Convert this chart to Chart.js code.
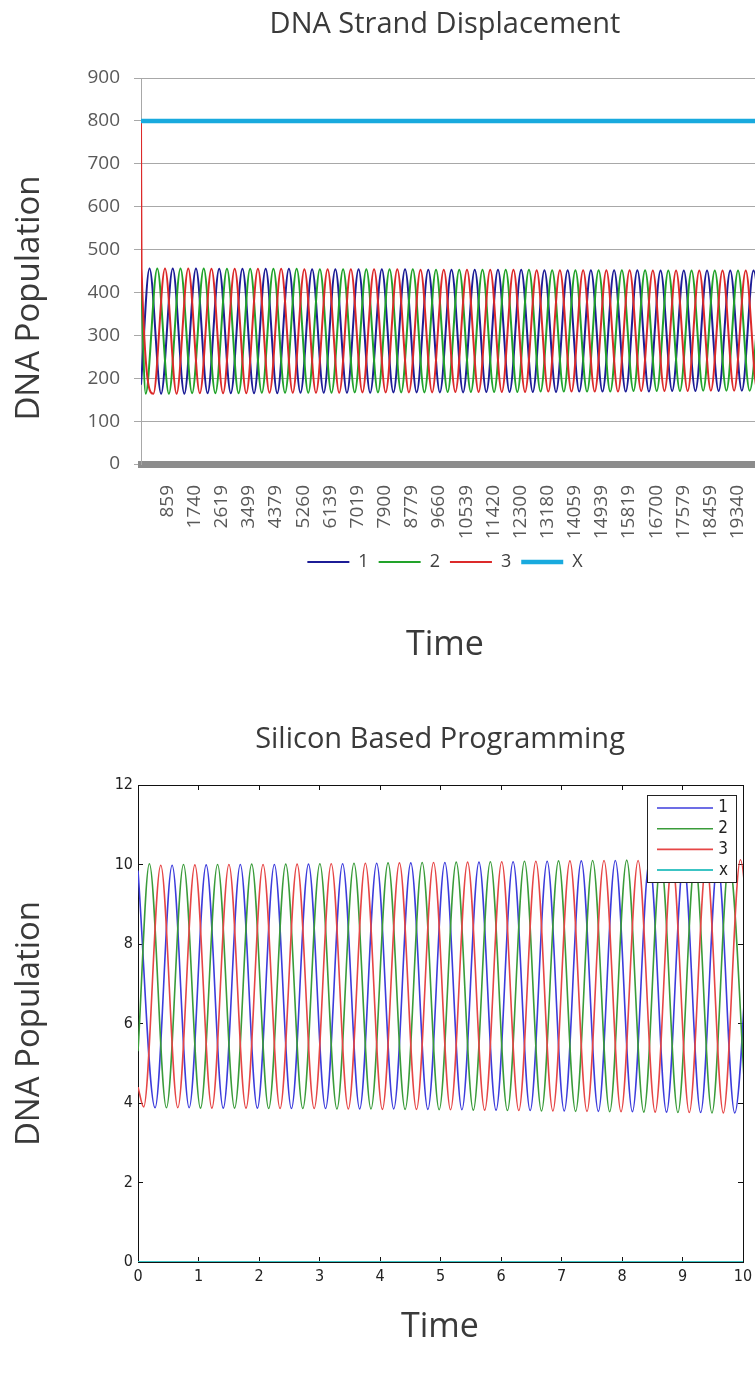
<!DOCTYPE html>
<html>
<head>
<meta charset="utf-8">
<script src="https://cdn.jsdelivr.net/npm/chart.js@4.4.1/dist/chart.umd.min.js"></script>
<style>
  html, body { margin: 0; padding: 0; background: #fff; overflow: hidden; }
  body { width: 755px; height: 1373px; position: relative; }
  #chartTop { position: absolute; left: 0; top: 0; }
  #chartBottom { position: absolute; left: 0; top: 690px; }
</style>
</head>
<body>
<canvas id="chartTop" width="890" height="690"></canvas>
<canvas id="chartBottom" width="880" height="683"></canvas>
<script>
const EXCEL_FONT = "'Open Sans', 'Noto Sans', sans-serif";
const MATLAB_FONT = "'Liberation Sans Narrow', 'DejaVu Sans Condensed', 'Liberation Sans', sans-serif";

// --- DNA strand displacement (top). Turning points.
const dsdTickLabels = [859, 1740, 2619, 3499, 4379, 5260, 6139, 7019, 7900, 8779, 9660,
  10539, 11420, 12300, 13180, 14059, 14939, 15819, 16700, 17579, 18459, 19340];

const dsdTime1 = [0, 276, 652, 1029, 1405, 1782, 2158, 2535, 2911, 3288, 3664, 4041, 4417, 4794,
  5170, 5547, 5923, 6300, 6676, 7053, 7429, 7806, 8182, 8559, 8935, 9312, 9688, 10065, 10441,
  10818, 11194, 11571, 11947, 12324, 12700, 13077, 13453, 13830, 14206, 14583, 14959, 15336,
  15712, 16089, 16465, 16842, 17218, 17595, 17971, 18348, 18724, 19101, 19477, 19854, 20230];
const dsdPop1 = [185, 456, 164, 456, 164, 456, 165, 455, 165, 455, 165, 455, 165, 455, 166, 454,
  166, 454, 166, 454, 166, 454, 167, 454, 167, 453, 167, 453, 167, 453, 168, 453, 168, 453, 168,
  452, 168, 452, 169, 452, 169, 452, 169, 452, 169, 451, 170, 451, 170, 451, 170, 451, 171, 451, 171];

const dsdTime2 = [0, 151, 527, 904, 1280, 1657, 2033, 2410, 2786, 3163, 3539, 3916, 4292, 4669,
  5045, 5422, 5798, 6175, 6551, 6928, 7304, 7681, 8057, 8434, 8810, 9187, 9563, 9940, 10316,
  10693, 11069, 11446, 11822, 12199, 12575, 12952, 13328, 13705, 14081, 14458, 14834, 15211,
  15587, 15964, 16340, 16717, 17093, 17470, 17846, 18223, 18599, 18976, 19352, 19729, 20105];
const dsdPop2 = [440, 164, 456, 164, 456, 165, 456, 165, 455, 165, 455, 166, 455, 166, 455, 166,
  454, 166, 454, 167, 454, 167, 454, 167, 454, 167, 453, 168, 453, 168, 453, 168, 453, 168, 453,
  169, 452, 169, 452, 169, 452, 169, 452, 170, 452, 170, 451, 170, 451, 171, 451, 171, 451, 171, 451];

const dsdTime3 = [0, 18, 401, 778, 1154, 1531, 1907, 2284, 2660, 3037, 3413, 3790, 4166, 4543,
  4919, 5296, 5672, 6049, 6425, 6802, 7178, 7555, 7931, 8308, 8684, 9061, 9437, 9814, 10190,
  10567, 10943, 11320, 11696, 12073, 12449, 12826, 13202, 13579, 13955, 14332, 14708, 15085,
  15461, 15838, 16214, 16591, 16967, 17344, 17720, 18097, 18473, 18850, 19226, 19603, 19979, 20356];
const dsdPop3 = [800, 456, 164, 456, 164, 456, 165, 455, 165, 455, 165, 455, 166, 455, 166, 454,
  166, 454, 166, 454, 167, 454, 167, 454, 167, 453, 167, 453, 168, 453, 168, 453, 168, 453, 168,
  452, 169, 452, 169, 452, 169, 452, 169, 452, 170, 451, 170, 451, 170, 451, 171, 451, 171, 451, 171, 451];

const dsdTimeX = [0, 20000];
const dsdPopX = [800, 800];

// --- Silicon based programming (bottom).
const sbpTime1 = [0, 0.282, 0.564, 0.846, 1.127, 1.409, 1.691, 1.973, 2.254, 2.536, 2.818, 3.100,
  3.382, 3.664, 3.945, 4.227, 4.509, 4.791, 5.072, 5.354, 5.636, 5.918, 6.200, 6.482, 6.763,
  7.045, 7.327, 7.609, 7.890, 8.172, 8.454, 8.736, 9.018, 9.300, 9.581, 9.863, 10.145];
const sbpPop1 = [9.85, 3.88, 9.98, 3.88, 9.99, 3.87, 10.0, 3.87, 10.0, 3.86, 10.01, 3.86, 10.02,
  3.85, 10.03, 3.85, 10.04, 3.84, 10.05, 3.83, 10.06, 3.82, 10.07, 3.81, 10.08, 3.8, 10.09, 3.79,
  10.1, 3.78, 10.1, 3.77, 10.09, 3.76, 10.08, 3.75, 10.07];

const sbpTime2 = [0, 0.188, 0.470, 0.752, 1.033, 1.315, 1.597, 1.879, 2.160, 2.442, 2.724, 3.006,
  3.288, 3.570, 3.851, 4.133, 4.415, 4.697, 4.978, 5.260, 5.542, 5.824, 6.106, 6.388, 6.669,
  6.951, 7.233, 7.515, 7.796, 8.078, 8.360, 8.642, 8.924, 9.206, 9.487, 9.769, 10.051];
const sbpPop2 = [5.3, 10.02, 3.88, 10.0, 3.87, 10.0, 3.87, 10.01, 3.86, 10.01, 3.86, 10.02, 3.85,
  10.03, 3.85, 10.04, 3.84, 10.05, 3.83, 10.06, 3.82, 10.07, 3.81, 10.08, 3.8, 10.09, 3.79, 10.1,
  3.78, 10.11, 3.77, 10.1, 3.76, 10.09, 3.75, 10.08, 3.75];

const sbpTime3 = [0, 0.094, 0.376, 0.658, 0.940, 1.221, 1.503, 1.785, 2.067, 2.348, 2.630, 2.912,
  3.194, 3.476, 3.758, 4.039, 4.321, 4.603, 4.885, 5.166, 5.448, 5.730, 6.012, 6.294, 6.576,
  6.857, 7.139, 7.421, 7.703, 7.984, 8.266, 8.548, 8.830, 9.112, 9.394, 9.675, 9.957, 10.239];
const sbpPop3 = [4.4, 3.9, 9.98, 3.88, 9.99, 3.87, 10.0, 3.87, 10.0, 3.86, 10.01, 3.86, 10.02,
  3.85, 10.03, 3.84, 10.04, 3.84, 10.05, 3.83, 10.06, 3.82, 10.07, 3.81, 10.08, 3.8, 10.09, 3.79,
  10.1, 3.78, 10.1, 3.77, 10.09, 3.76, 10.08, 3.75, 10.12, 3.76];

const sbpTimeX = [0, 10];
const sbpPopX = [0, 0];

function pairs(xs, ys) {
  return xs.map((x, i) => ({ x, y: ys[i] }));
}

function series(label, xs, ys, color, width, order) {
  return {
    label,
    data: pairs(xs, ys),
    borderColor: color,
    backgroundColor: color,
    borderWidth: width,
    pointRadius: 0,
    cubicInterpolationMode: "monotone",
    order, // later series drawn on top, like Excel/MATLAB
  };
}

// empty right-hand axis: keeps the plot off the right edge without shrinking title/legend boxes
function spacerAxis(width) {
  return {
    type: "linear",
    position: "right",
    display: true,
    afterFit: (s) => { s.width = width; },
    grid: { display: false },
    border: { display: false },
    ticks: { display: false },
  };
}

// rotated axis title that sits a little lower than the plot middle (Excel does that)
const sideTitle = {
  id: "sideTitle",
  afterDraw(chart, args, opts) {
    const ctx = chart.ctx;
    ctx.save();
    ctx.translate(opts.x, opts.y);
    ctx.rotate(-Math.PI / 2);
    ctx.font = opts.font;
    ctx.fillStyle = opts.color;
    ctx.textAlign = "center";
    ctx.textBaseline = "middle";
    ctx.fillText(opts.text, 0, 0);
    ctx.restore();
  },
};

// MATLAB style boxed legend inside the plot
const boxLegend = {
  id: "boxLegend",
  afterDatasetsDraw(chart, args, opts) {
    const ctx = chart.ctx;
    ctx.save();
    ctx.fillStyle = "#fff";
    ctx.fillRect(opts.left, opts.top, opts.width, opts.height);
    ctx.strokeStyle = "#222";
    ctx.lineWidth = 1;
    ctx.strokeRect(opts.left + 0.5, opts.top + 0.5, opts.width, opts.height);
    ctx.font = opts.font;
    ctx.textAlign = "right";
    ctx.textBaseline = "middle";
    chart.data.datasets.forEach((ds, i) => {
      const y = opts.top + opts.firstRow + i * opts.rowHeight;
      ctx.strokeStyle = ds.borderColor;
      ctx.lineWidth = ds.borderWidth;
      ctx.beginPath();
      ctx.moveTo(opts.left + opts.lineStart, y);
      ctx.lineTo(opts.left + opts.lineEnd, y);
      ctx.stroke();
      ctx.fillStyle = "#222";
      ctx.fillText(ds.label, opts.left + opts.textRight, y);
    });
    ctx.restore();
  },
};

new Chart(document.getElementById("chartTop"), {
  type: "line",
  data: {
    datasets: [
      series("1", dsdTime1, dsdPop1, "#1c1c96", 2, 3),
      series("2", dsdTime2, dsdPop2, "#22a32a", 2, 2),
      series("3", dsdTime3, dsdPop3, "#dc2a2a", 2, 1),
      series("X", dsdTimeX, dsdPopX, "#19aade", 4.5, 0),
    ],
  },
  plugins: [sideTitle],
  options: {
    responsive: false,
    animation: false,
    layout: { padding: 0 },
    plugins: {
      title: {
        display: true,
        text: "DNA Strand Displacement",
        color: "#3a3a3a",
        font: { family: EXCEL_FONT, size: 29, weight: "normal" },
        padding: { top: 7.6, bottom: 35.6 },
      },
      subtitle: {
        display: true,
        position: "bottom",
        text: "Time",
        color: "#3a3a3a",
        font: { family: EXCEL_FONT, size: 34, weight: "normal" },
        padding: { top: 43.6, bottom: 24.6 },
      },
      legend: {
        position: "bottom",
        labels: {
          usePointStyle: true,
          pointStyle: "line",
          pointStyleWidth: 42,
          color: "#404040",
          font: { family: EXCEL_FONT, size: 18 },
          padding: 10,
          sort: (a, b) => a.datasetIndex - b.datasetIndex,
        },
      },
      tooltip: { enabled: false },
      sideTitle: { text: "DNA Population", x: 30, y: 298, font: "33px " + EXCEL_FONT, color: "#3a3a3a" },
    },
    scales: {
      x: {
        type: "linear",
        min: 0,
        max: 20000,
        afterBuildTicks: (s) => { s.ticks = dsdTickLabels.map((v) => ({ value: v })); },
        afterFit: (s) => { s.height = 79; },
        grid: { display: false },
        border: { color: "#8c8c8c", width: 7 },
        ticks: {
          autoSkip: false,
          minRotation: 90,
          maxRotation: 90,
          padding: 13,
          color: "#595959",
          font: { family: EXCEL_FONT, size: 19 },
          callback: (v) => String(v),
        },
      },
      y: {
        min: 0,
        max: 900,
        afterFit: (s) => { s.width = 141; },
        grid: { color: "#a8a8a8", tickLength: 7 },
        border: { color: "#a8a8a8" },
        ticks: { stepSize: 100, padding: 14, color: "#595959", font: { family: EXCEL_FONT, size: 19 } },
      },
      spacer: spacerAxis(132),
    },
  },
});

const innerTicks = { drawOnChartArea: false, tickLength: -5, color: "#111" };

new Chart(document.getElementById("chartBottom"), {
  type: "line",
  data: {
    datasets: [
      series("1", sbpTime1, sbpPop1, "#3c3cdc", 1.6, 3),
      series("2", sbpTime2, sbpPop2, "#3a9c3a", 1.6, 2),
      series("3", sbpTime3, sbpPop3, "#e64646", 1.6, 1),
      series("x", sbpTimeX, sbpPopX, "#3cc4c4", 2, 0),
    ],
  },
  plugins: [boxLegend],
  options: {
    responsive: false,
    animation: false,
    layout: { padding: 0 },
    plugins: {
      title: {
        display: true,
        text: "Silicon Based Programming",
        color: "#3a3a3a",
        font: { family: EXCEL_FONT, size: 29, weight: "normal" },
        padding: { top: 32.6, bottom: 27.6 },
      },
      subtitle: {
        display: true,
        position: "bottom",
        text: "Time",
        color: "#3a3a3a",
        font: { family: EXCEL_FONT, size: 34, weight: "normal" },
        padding: { top: 19.6, bottom: 25.6 },
      },
      legend: { display: false },
      tooltip: { enabled: false },
      boxLegend: {
        left: 647, top: 105, width: 89, height: 87,
        firstRow: 13, rowHeight: 20.7, lineStart: 10, lineEnd: 66, textRight: 81,
        font: "17px " + MATLAB_FONT,
      },
    },
    scales: {
      x: {
        type: "linear",
        min: 0,
        max: 10,
        position: "bottom",
        afterFit: (s) => { s.height = 25; },
        grid: innerTicks,
        border: { color: "#111" },
        ticks: { stepSize: 1, padding: 10, color: "#222", font: { family: MATLAB_FONT, size: 16 } },
      },
      x2: {
        type: "linear",
        min: 0,
        max: 10,
        position: "top",
        afterFit: (s) => { s.height = 0; },
        grid: innerTicks,
        border: { color: "#111" },
        ticks: { stepSize: 1, display: false },
      },
      y: {
        min: 0,
        max: 12,
        position: "left",
        afterFit: (s) => { s.width = 138; },
        grid: innerTicks,
        border: { color: "#111" },
        title: {
          display: true,
          text: "DNA Population",
          color: "#3a3a3a",
          font: { family: EXCEL_FONT, size: 33, weight: "normal" },
          padding: { top: 10.2, bottom: 0 },
        },
        ticks: { stepSize: 2, padding: 10, color: "#222", font: { family: MATLAB_FONT, size: 16 } },
      },
      y2: {
        min: 0,
        max: 12,
        position: "right",
        afterFit: (s) => { s.width = 137; },
        grid: innerTicks,
        border: { color: "#111" },
        ticks: { stepSize: 2, display: false },
      },
    },
  },
});
</script>
</body>
</html>
